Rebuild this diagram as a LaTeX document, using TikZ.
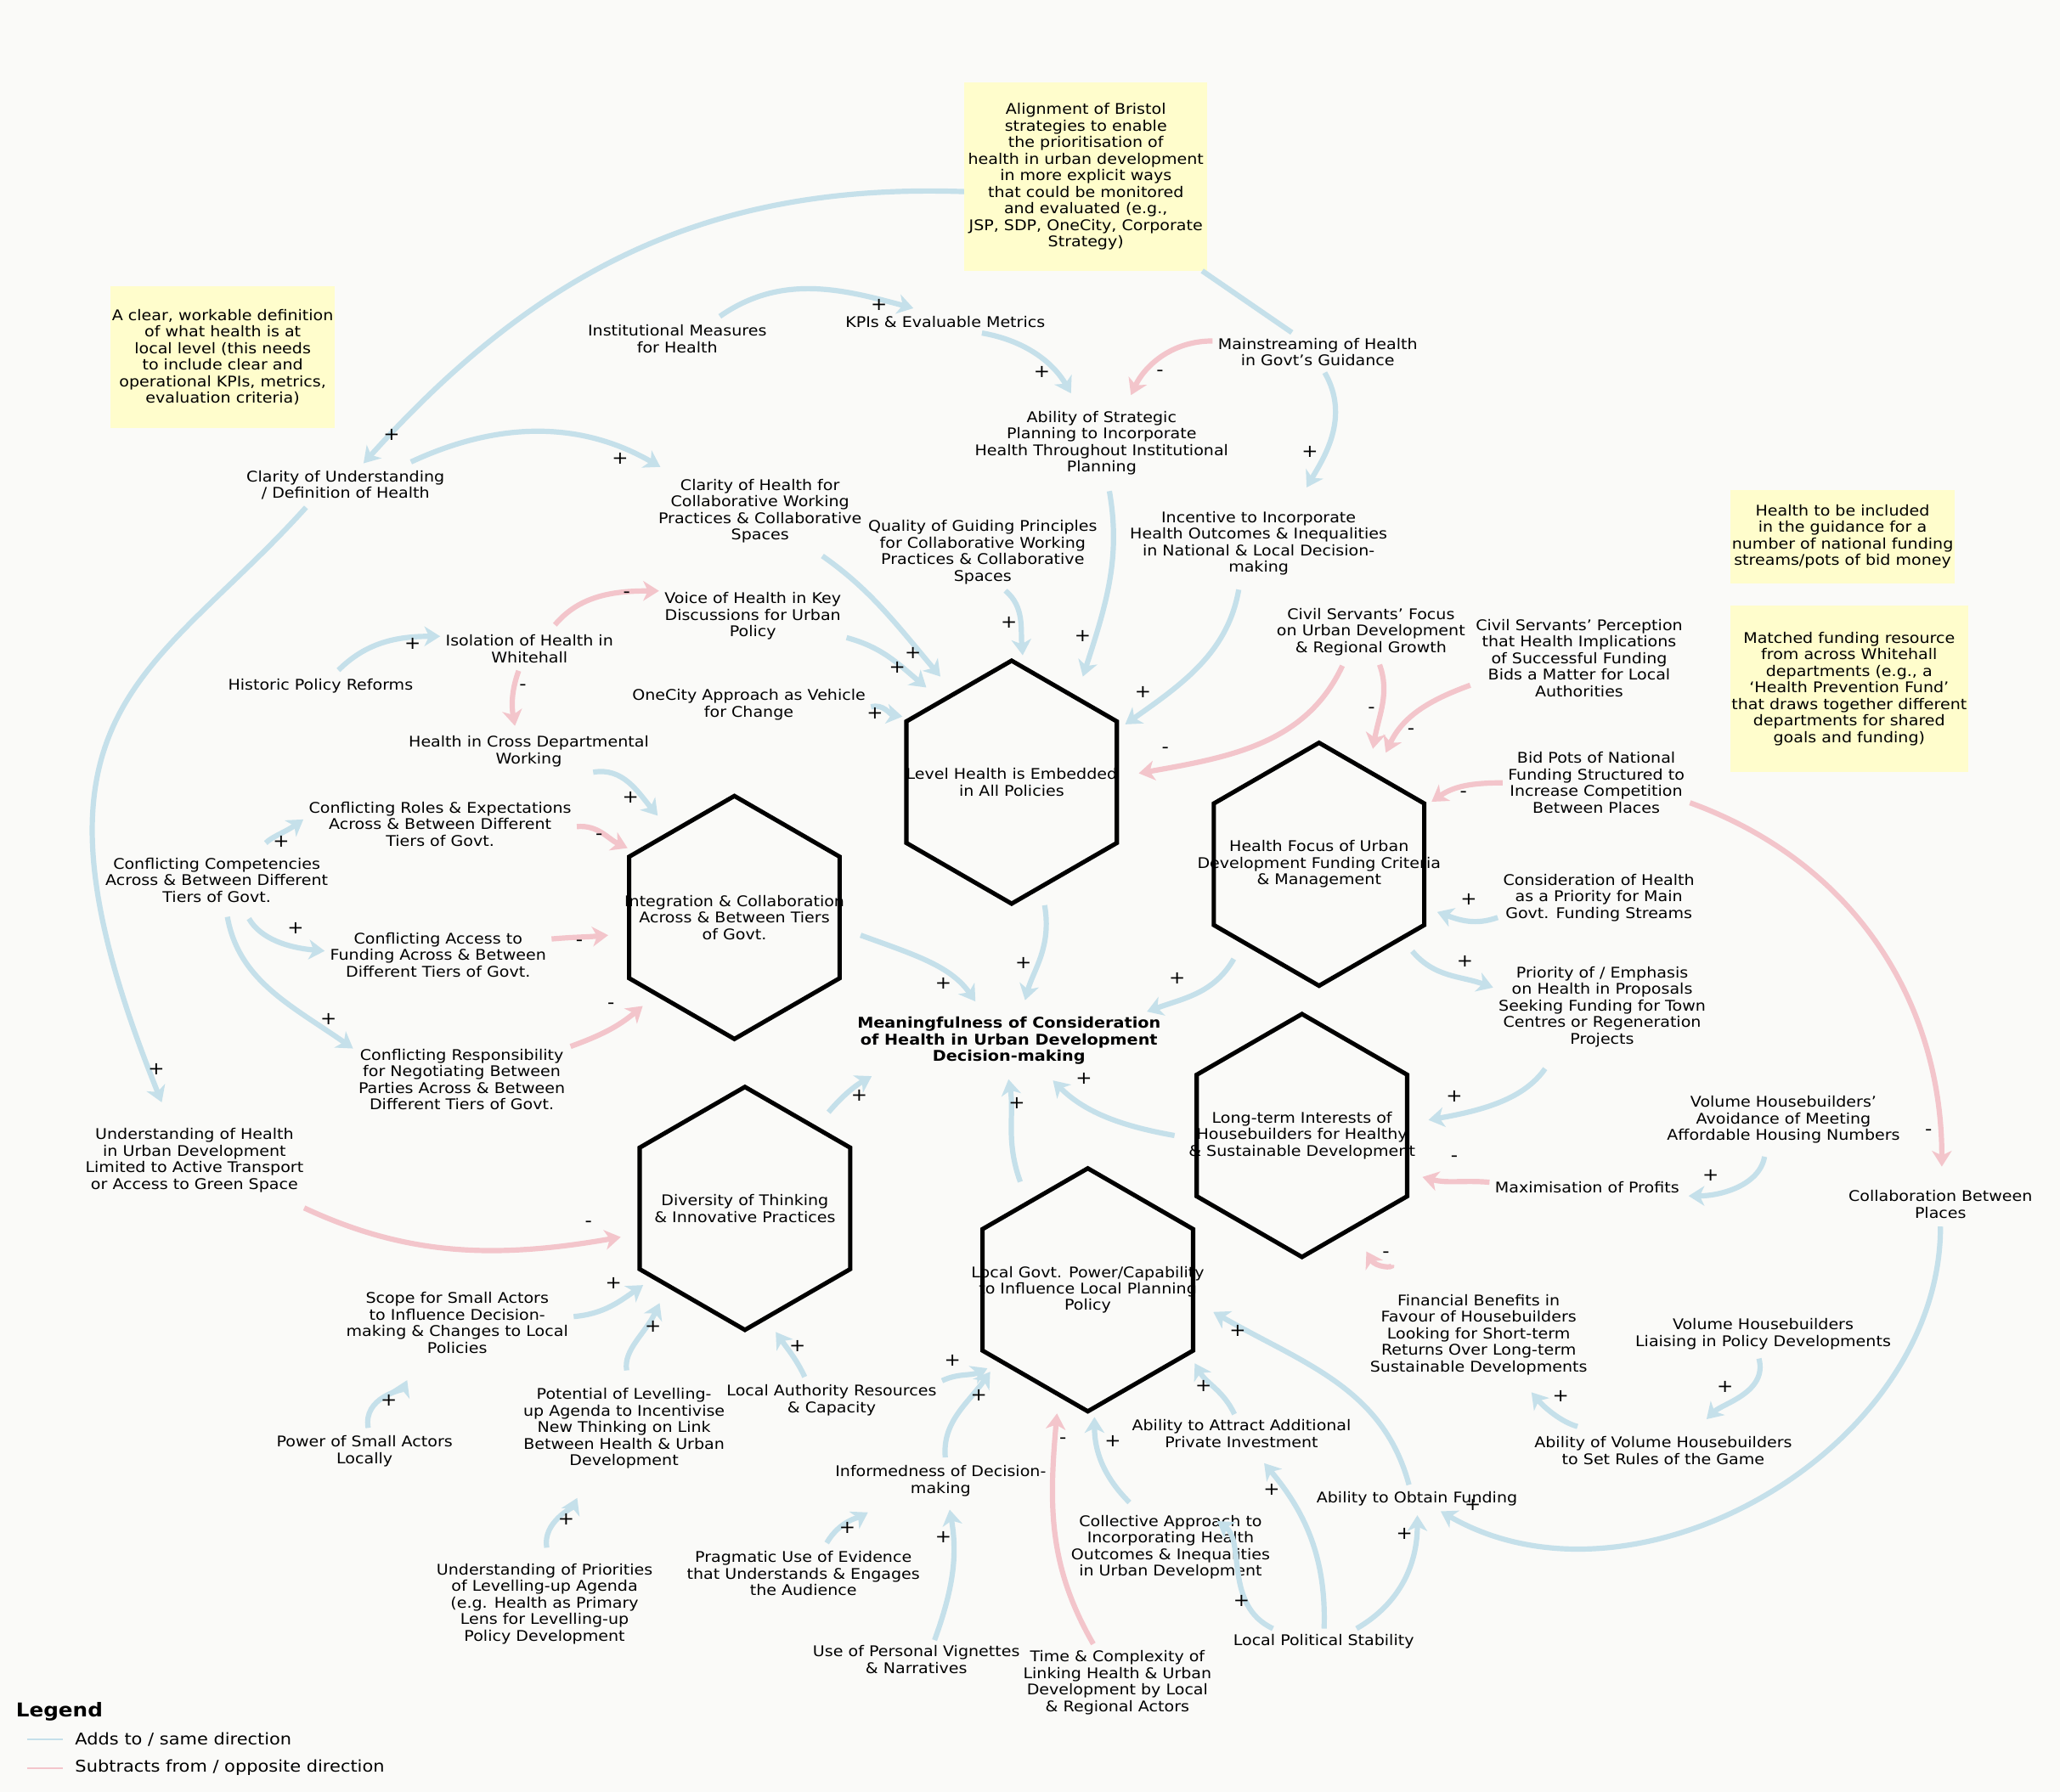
\documentclass[tikz,border=0pt]{standalone}
\usepackage{fontspec}
\setmainfont{DejaVu Sans}[FakeStretch=1.1]
\usetikzlibrary{arrows.meta}
\definecolor{addblue}{RGB}{197,224,234}
\definecolor{subpink}{RGB}{243,197,203}
\definecolor{memoyellow}{RGB}{255,253,204}
\definecolor{canvas}{RGB}{250,250,248}
\newcommand{\varfont}{\fontsize{11.2}{12.6}\selectfont}
\newcommand{\keyfont}{\bfseries\fontsize{11.3}{12.6}\selectfont}
\newcommand{\signfont}{\fontsize{13.5}{13.5}\selectfont}
\newcommand{\legendhead}{\bfseries\fontsize{14.5}{16}\selectfont}
\newcommand{\legendfont}{\fontsize{12.3}{14}\selectfont}
\tikzset{
  var/.style={align=center, inner sep=4pt, font=\varfont},
  keyvar/.style={var, font=\keyfont},
  memo/.style={fill=memoyellow, align=center, inner sep=0pt, font=\varfont},
  hexzone/.style={circle, minimum size=194pt, inner sep=0pt, outer sep=0pt},
  hexlabel/.style={align=center, inner sep=0pt, font=\varfont},
  hexline/.style={draw=black, line width=3.3pt},
  cld/.style={line width=4pt, -{Stealth[length=12pt,width=15pt,inset=3.5pt]}},
  adds/.style={cld, draw=addblue},
  subs/.style={cld, draw=subpink},
  memolink/.style={draw=addblue, line width=4pt},
  sgn/.style={font=\signfont, inner sep=0pt}
}
\begin{document}
\begin{tikzpicture}[x=1pt,y=1pt]
  \useasboundingbox (0,0) rectangle (1568,-1364);
  \fill[canvas] (0,0) rectangle (1568,-1364);
  % notes
  \node[memo, minimum width=185pt, minimum height=143pt] (bristol) at (826.5,-134.5) {Alignment of Bristol\\strategies to enable\\the prioritisation of\\health in urban development\\in more explicit ways\\that could be monitored\\and evaluated (e.g.,\\JSP, SDP, OneCity, Corporate\\Strategy)};
  \node[memo, minimum width=171pt, minimum height=108pt] (definition) at (169.5,-272) {A clear, workable definition\\of what health is at\\local level (this needs\\to include clear and\\operational KPIs, metrics,\\evaluation criteria)};
  \node[memo, minimum width=171pt, minimum height=71pt] (guidance) at (1402.5,-408.5) {Health to be included\\in the guidance for a\\number of national funding\\streams/pots of bid money};
  \node[memo, minimum width=181pt, minimum height=127pt] (matched) at (1407.5,-524.5) {Matched funding resource\\from across Whitehall\\departments (e.g., a\\‘Health Prevention Fund’\\that draws together different\\departments for shared\\goals and funding)};
  % variables
  \node[var] (clarity) at (263,-369.5) {Clarity of Understanding\\/ Definition of Health};
  \node[var] (instmeas) at (515.5,-258) {Institutional Measures\\for Health};
  \node[var] (kpis) at (719.5,-245) {KPIs \& Evaluable Metrics};
  \node[var] (mainstream) at (1003,-268) {Mainstreaming of Health\\in Govt's Guidance};
  \node[var] (strategic) at (838.5,-337.5) {Ability of Strategic\\Planning to Incorporate\\Health Throughout Institutional\\Planning};
  \node[var] (collabclar) at (578.5,-389) {Clarity of Health for\\Collaborative Working\\Practices \& Collaborative\\Spaces};
  \node[var] (principles) at (748,-420.5) {Quality of Guiding Principles\\for Collaborative Working\\Practices \& Collaborative\\Spaces};
  \node[var] (incentive) at (958,-413.5) {Incentive to Incorporate\\Health Outcomes \& Inequalities\\in National \& Local Decision-\\making};
  \node[var] (voice) at (573,-469) {Voice of Health in Key\\Discussions for Urban\\Policy};
  \node[var] (isolation) at (403,-494) {Isolation of Health in\\Whitehall};
  \node[var] (reforms) at (244,-522) {Historic Policy Reforms};
  \node[var] (onecity) at (570,-536.5) {OneCity Approach as Vehicle\\for Change};
  \node[var] (crossdept) at (402.5,-572) {Health in Cross Departmental\\Working};
  \node[var] (civfocus) at (1043.5,-481) {Civil Servants' Focus\\on Urban Development\\\& Regional Growth};
  \node[var] (civperc) at (1202,-501) {Civil Servants' Perception\\that Health Implications\\of Successful Funding\\Bids a Matter for Local\\Authorities};
  \node[var] (bidpots) at (1215,-596) {Bid Pots of National\\Funding Structured to\\Increase Competition\\Between Places};
  \node[var] (fundprio) at (1217,-683.5) {Consideration of Health\\as a Priority for Main\\Govt. Funding Streams};
  \node[var] (proposals) at (1219.5,-766.5) {Priority of / Emphasis\\on Health in Proposals\\Seeking Funding for Town\\Centres or Regeneration\\Projects};
  \node[var] (roles) at (335,-627.5) {Conflicting Roles \& Expectations\\Across \& Between Different\\Tiers of Govt.};
  \node[var] (competencies) at (165,-670) {Conflicting Competencies\\Across \& Between Different\\Tiers of Govt.};
  \node[var] (access) at (333.5,-727) {Conflicting Access to\\Funding Across \& Between\\Different Tiers of Govt.};
  \node[var] (responsibility) at (351.5,-822) {Conflicting Responsibility\\for Negotiating Between\\Parties Across \& Between\\Different Tiers of Govt.};
  \node[var] (limited) at (148,-883.5) {Understanding of Health\\in Urban Development\\Limited to Active Transport\\or Access to Green Space};
  \node[keyvar] (meaning) at (768,-792.5) {Meaningfulness of Consideration\\of Health in Urban Development\\Decision-making};
  \node[var] (avoidance) at (1357.5,-852.5) {Volume Housebuilders'\\Avoidance of Meeting\\Affordable Housing Numbers};
  \node[var] (profits) at (1208,-904) {Maximisation of Profits};
  \node[var] (places) at (1477,-917) {Collaboration Between\\Places};
  \node[var] (finbenefit) at (1125.5,-1016) {Financial Benefits in\\Favour of Housebuilders\\Looking for Short-term\\Returns Over Long-term\\Sustainable Developments};
  \node[var] (liaising) at (1342,-1015.5) {Volume Housebuilders\\Liaising in Policy Developments};
  \node[var] (rules) at (1266,-1104.5) {Ability of Volume Housebuilders\\to Set Rules of the Game};
  \node[var] (obtain) at (1078.5,-1141) {Ability to Obtain Funding};
  \node[var] (stability) at (1007.5,-1249.5) {Local Political Stability};
  \node[var] (attract) at (945,-1091.5) {Ability to Attract Additional\\Private Investment};
  \node[var] (collective) at (891,-1178) {Collective Approach to\\Incorporating Health\\Outcomes \& Inequalities\\in Urban Development};
  \node[var] (complexity) at (850.5,-1281) {Time \& Complexity of\\Linking Health \& Urban\\Development by Local\\\& Regional Actors};
  \node[var] (vignettes) at (697.5,-1263.5) {Use of Personal Vignettes\\\& Narratives};
  \node[var] (pragmatic) at (611.5,-1198) {Pragmatic Use of Evidence\\that Understands \& Engages\\the Audience};
  \node[var] (informed) at (716,-1127.5) {Informedness of Decision-\\making};
  \node[var] (lares) at (633,-1066) {Local Authority Resources\\\& Capacity};
  \node[var] (levelling) at (475,-1087.5) {Potential of Levelling-\\up Agenda to Incentivise\\New Thinking on Link\\Between Health \& Urban\\Development};
  \node[var] (scope) at (348,-1007) {Scope for Small Actors\\to Influence Decision-\\making \& Changes to Local\\Policies};
  \node[var] (smallpower) at (277.5,-1105) {Power of Small Actors\\Locally};
  \node[var] (lupriority) at (414.5,-1221) {Understanding of Priorities\\of Levelling-up Agenda\\(e.g. Health as Primary\\Lens for Levelling-up\\Policy Development};
  % hexagons
  \node[hexzone] (hiap) at (770,-595.5) {};
  \node[hexlabel] (hiap-text) at (hiap) {Level Health is Embedded\\in All Policies};
  \node[hexzone] (integ) at (559,-698.5) {};
  \node[hexlabel] (integ-text) at (integ) {Integration \& Collaboration\\Across \& Between Tiers\\of Govt.};
  \node[hexzone] (fundcrit) at (1004,-658) {};
  \node[hexlabel] (fundcrit-text) at (fundcrit) {Health Focus of Urban\\Development Funding Criteria\\\& Management};
  \node[hexzone] (longterm) at (991,-864.5) {};
  \node[hexlabel] (longterm-text) at (longterm) {Long-term Interests of\\Housebuilders for Healthy\\\& Sustainable Development};
  \node[hexzone] (diversity) at (567,-920) {};
  \node[hexlabel] (diversity-text) at (diversity) {Diversity of Thinking\\\& Innovative Practices};
  \node[hexzone] (lgpower) at (828,-982) {};
  \node[hexlabel] (lgpower-text) at (lgpower) {Local Govt. Power/Capability\\to Influence Local Planning\\Policy};
  \foreach \h in {hiap,integ,fundcrit,longterm,diversity,lgpower}
    \draw[hexline] (\h) +(90:92.5) -- +(150:92.5) -- +(210:92.5) -- +(270:92.5) -- +(330:92.5) -- +(30:92.5) -- cycle;
  % top of the map
  \draw[adds, shorten >=2pt] (bristol.187) to[out=178,in=48] (clarity.51);
  \draw[memolink] (bristol.-39) -- (mainstream.143);
  \draw[adds, shorten <=6pt, shorten >=10pt] (clarity.19) to[out=25,in=150] (collabclar.157);
  \draw[adds, shorten <=2pt, shorten >=17pt] (clarity.208) to[out=228,in=112,out looseness=0.95,in looseness=1.8] (limited.123);
  \draw[adds, shorten <=4pt, shorten >=7pt] (instmeas.27) to[out=35,in=165] (kpis.154);
  \draw[adds, shorten >=11pt] (kpis.-17) to[out=-10,in=120] (strategic.122);
  \draw[subs, shorten >=9pt] (mainstream.174) to[out=180,in=65] (strategic.57);
  \draw[adds, shorten <=1pt, shorten >=16pt] (mainstream.-72) to[out=-60,in=60] (incentive.45);
  % into health in all policies
  \draw[adds, shorten <=8pt] (strategic.-81) to[out=-80,in=72] (hiap.56);
  \draw[adds, shorten <=7pt] (incentive.-116) to[out=-100,in=35] (hiap.27);
  \draw[adds, shorten <=1pt] (principles.-60) to[out=-40,in=95] (hiap.85);
  \draw[adds, shorten <=10pt] (collabclar.-36) to[out=-35,in=130] (hiap.124);
  \draw[adds] (voice.-13) to[out=-15,in=140] (hiap.132);
  \draw[adds] (onecity.-1) to[out=15,in=170] (hiap.149);
  \draw[subs, shorten <=4pt] (civfocus.-132) to[out=-115,in=10] (hiap.4);
  % funding criteria
  \draw[subs, shorten <=3pt] (civfocus.-76) to[out=-70,in=80] (fundcrit.65);
  \draw[subs, shorten >=2pt] (civperc.194) to[out=200,in=65] (fundcrit.59);
  \draw[subs, shorten >=1pt] (bidpots.180) to[out=180,in=35] (fundcrit.29);
  \draw[subs, shorten >=14pt] (bidpots.-12) to[out=-20,in=90] (places.86);
  \draw[adds] (fundprio.191) to[out=200,in=-20] (fundcrit.-22);
  \draw[adds] (fundcrit.-43) to[out=-50,in=160] (proposals.170);
  % into meaningfulness
  \draw[adds] (fundcrit.228) to[out=-120,in=20] (meaning.12);
  \draw[adds, shorten >=9pt] (hiap.-75) to[out=-80,in=75] (meaning.66);
  \draw[adds, shorten >=9.5pt] (integ.-8) to[out=-20,in=125] (meaning.132);
  \draw[adds, shorten >=9pt] (diversity.49) to[out=50,in=210] (meaning.193);
  \draw[adds, shorten >=7pt] (lgpower.122) to[out=110,in=-80] (meaning.-94);
  \draw[adds, shorten >=11pt] (longterm.180) to[out=170,in=-45] (meaning.-41);
  % housebuilders
  \draw[adds, shorten <=15pt] (proposals.-135) to[out=-125,in=10] (longterm.7);
  \draw[subs] (profits.177) to[out=175,in=-15] (longterm.-19);
  \draw[adds, shorten <=6pt, shorten >=3pt] (avoidance.-121) to[out=-100,in=0] (profits.-5);
  \draw[adds, shorten <=2pt] (places.-90) to[out=-90,in=-30] (obtain.-28);
  \draw[adds, shorten <=3pt, shorten >=13pt] (liaising.-104) to[out=-75,in=45] (rules.32);
  \draw[adds, shorten <=14pt, shorten >=12pt] (rules.164) to[out=165,in=-50] (finbenefit.-47);
  \draw[subs, shorten <=21pt, shorten >=4pt] (finbenefit.148) to[out=120,in=-60] (longterm.-61);
  % local govt power
  \draw[adds, shorten <=1pt] (obtain.121) to[out=105,in=-30] (lgpower.-10);
  \draw[adds, shorten >=2pt] (attract.110) to[out=115,in=-60] (lgpower.-34);
  \draw[adds, shorten <=8pt] (collective.132) to[out=135,in=-90] (lgpower.-87);
  \draw[subs, shorten <=1pt] (complexity.122) to[out=120,in=-95] (lgpower.-104);
  \draw[adds, shorten >=10pt] (stability.88) to[out=88,in=-50] (attract.-54);
  \draw[adds, shorten >=15pt] (stability.166) to[out=155,in=-35] (collective.51);
  \draw[adds, shorten >=3pt] (stability.21) to[out=30,in=-90] (obtain.-88);
  \draw[adds, shorten <=2pt] (lares.141) to[out=115,in=-55] (diversity.-76);
  \draw[adds] (lares.10) to[out=25,in=205] (lgpower.218);
  \draw[adds, shorten <=2pt] (informed.77) to[out=95,in=235] (lgpower.220);
  \draw[adds, shorten <=2.5pt, shorten >=16pt] (pragmatic.52) to[out=60,in=210] (informed.201);
  \draw[adds, shorten >=6pt] (vignettes.47) to[out=70,in=-80] (informed.-70);
  % diversity of thinking
  \draw[adds, shorten <=9.5pt] (levelling.84) to[out=100,in=-115] (diversity.228);
  \draw[adds] (scope.3) to[out=5,in=215] (diversity.217);
  \draw[adds, shorten <=2pt, shorten >=18pt] (smallpower.79) to[out=100,in=-115] (scope.222);
  \draw[adds, shorten <=8pt, shorten >=20pt] (lupriority.85) to[out=100,in=-115] (levelling.232);
  \draw[subs, shorten <=18pt] (limited.-23) to[out=-25,in=190] (diversity.193);
  % tiers of govt
  \draw[adds, shorten <=3pt] (reforms.40) to[out=45,in=180] (isolation.172);
  \draw[subs, shorten <=4.5pt] (isolation.42) to[out=50,in=180] (voice.165);
  \draw[subs, shorten <=2pt, shorten >=3.5pt] (isolation.-117) to[out=-110,in=100] (crossdept.122);
  \draw[adds] (crossdept.-18) to[out=10,in=130] (integ.127);
  \draw[subs] (roles.-1) to[out=5,in=155] (integ.147);
  \draw[subs] (access.8) to[out=5,in=185] (integ.188);
  \draw[subs] (responsibility.17) to[out=20,in=220] (integ.224);
  \draw[adds, shorten <=10pt] (competencies.35) to[out=45,in=215] (roles.178);
  \draw[adds, shorten <=9.5pt] (competencies.-47) to[out=-60,in=175] (access.178);
  \draw[adds, shorten <=7pt] (competencies.-72) to[out=-80,in=145] (responsibility.164);
  % polarity marks
  \foreach \sx/\sy/\sv [count=\si] in {298/331/+, 472/349/+, 119/814/+, 669/232/+, 793/283/+, 883/284/-, 997/344/+, 824/484/+, 870/527/+, 768/474/+, 695/497/+, 683/508/+, 666/543/+, 887/571/-, 1044/541/-, 1074/557/-, 1114/605/-, 1468/862/-, 1118/685/+, 1115/732/+, 896/745/+, 779/733/+, 718/749/+, 654/834/+, 774/840/+, 825/821/+, 1107/835/+, 1107/882/-, 1302/895/+, 1121/1146/+, 1313/1056/+, 1188/1063/+, 1055/955/-, 942/1013/+, 916/1055/+, 847/1097/+, 809/1097/-, 968/1134/+, 945/1219/+, 1069/1168/+, 607/1025/+, 725/1036/+, 745/1062/+, 645/1163/+, 718/1170/+, 497/1010/+, 467/977/+, 296/1066/+, 431/1157/+, 448/932/-, 314/490/+, 477/453/-, 398/523/-, 480/607/+, 456/637/-, 441/718/-, 465/766/-, 214/641/+, 225/707/+, 250/776/+}
    \node[sgn] (sign\si) at (\sx,-\sy) {\sv};
  % legend
  \node[anchor=west, inner sep=0pt, font=\legendhead] (legend) at (12,-1303) {Legend};
  \node[anchor=west, inner sep=0pt, font=\legendfont] (addkey) at (57,-1324) {Adds to / same direction};
  \node[anchor=west, inner sep=0pt, font=\legendfont] (subkey) at (57,-1346) {Subtracts from / opposite direction};
  \draw[addblue, line width=1.5pt] ([xshift=-36pt]addkey.west) -- ([xshift=-9pt]addkey.west);
  \draw[subpink, line width=1.5pt] ([xshift=-36pt]subkey.west) -- ([xshift=-9pt]subkey.west);
\end{tikzpicture}
\end{document}
